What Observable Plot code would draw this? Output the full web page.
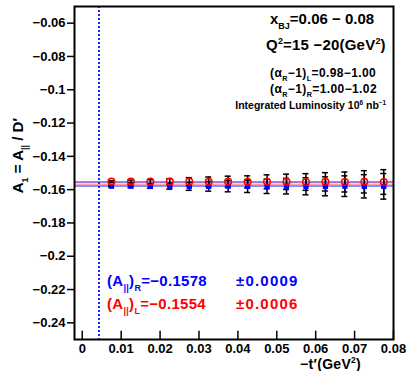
<!DOCTYPE html>
<html><head><meta charset="utf-8">
<script src="https://cdn.jsdelivr.net/npm/d3@7"></script>
<script src="https://cdn.jsdelivr.net/npm/@observablehq/plot@0.6"></script>
<style>body{margin:0;background:#fff} svg{display:block}</style>
</head><body><div id="chart"></div>
<script>
// -t' bin centres (GeV^2)
const tValues = [0.0075,0.0125,0.0175,0.0225,0.0275,0.0325,0.0375,0.0425,0.0475,0.0525,0.0575,0.0625,0.0675,0.0725,0.0775];
// (A||)_L  (red open circles)
const aLeft  = [-0.1551,-0.1551,-0.1552,-0.1552,-0.1552,-0.1553,-0.1552,-0.1553,-0.1553,-0.1553,-0.1554,-0.1553,-0.1554,-0.1553,-0.1554];
const errLeft = [0.0005,0.0008,0.0012,0.0018,0.0024,0.0029,0.0033,0.0036,0.0042,0.0046,0.0050,0.0055,0.0060,0.0067,0.0074];
// (A||)_R  (blue filled squares)
const aRight = [-0.1579,-0.1579,-0.1580,-0.1579,-0.1580,-0.1580,-0.1579,-0.1580,-0.1580,-0.1579,-0.1580,-0.1580,-0.1579,-0.1580,-0.1580];
const errRight = [0.0005,0.0008,0.0012,0.0018,0.0024,0.0029,0.0034,0.0037,0.0043,0.0047,0.0051,0.0057,0.0062,0.0070,0.0077];
// fit results
const fitRight = -0.1578, fitRightErr = 0.0009;
const fitLeft = -0.1554, fitLeftErr = 0.0006;
// cut line
const tCut = 0.0043;
// axes
const xDomain = [-0.002, 0.08];
const yDomain = [-0.25, -0.05];
const xTicks = [0,0.01,0.02,0.03,0.04,0.05,0.06,0.07,0.08];
const yTicks = [-0.24,-0.22,-0.2,-0.18,-0.16,-0.14,-0.12,-0.1,-0.08,-0.06];

const left = tValues.map((t,i)=>({t, a:aLeft[i], e:errLeft[i]}));
const right = tValues.map((t,i)=>({t, a:aRight[i], e:errRight[i]}));
const fmt = d => d === 0 ? "0" : (d < 0 ? "\u2212" : "") + String(+Math.abs(d).toFixed(2));
const FONT = "'Liberation Sans', Arial, Helvetica, sans-serif";

const errMarks = (data) => [
  Plot.ruleX(data, {x:"t", y1:d=>d.a-d.e, y2:d=>d.a+d.e, stroke:"black", strokeWidth:1.5}),
  Plot.ruleY(data, {y:d=>d.a+d.e, x1:"t", x2:"t", insetLeft:-3, insetRight:-3, stroke:"black", strokeWidth:1.5}),
  Plot.ruleY(data, {y:d=>d.a-d.e, x1:"t", x2:"t", insetLeft:-3, insetRight:-3, stroke:"black", strokeWidth:1.5})
];

const plot = Plot.plot({
  width: 409, height: 371,
  marginLeft: 74, marginRight: 16, marginTop: 6, marginBottom: 32,
  style: {fontFamily: FONT, background: "white", color: "black"},
  x: {domain: xDomain},
  y: {domain: yDomain},
  marks: [
    Plot.ruleX([tCut], {stroke:"#2020ff", strokeWidth:2, strokeDasharray:"2,2"}),
    Plot.ruleY([fitLeft, fitRight], {stroke:"#1a1aff", strokeWidth:1.2}),
    Plot.ruleY([fitLeft - fitLeftErr, fitRight + fitRightErr], {stroke:"red", strokeOpacity:0.45, strokeWidth:0.8}),
    ...errMarks(right),
    ...errMarks(left),
    Plot.dot(right, {x:"t", y:"a", symbol:"square", r:3, fill:"blue"}),
    Plot.dot(left, {x:"t", y:"a", r:3.3, stroke:"red", strokeWidth:1.5, fill:"none"}),
    Plot.ruleX(xTicks, {y1: yDomain[0], y2: yDomain[0] + 0.005, stroke:"black", strokeWidth:1.5}),
    Plot.axisY({ticks: yTicks, tickSize: 7, tickPadding: 2, tickFormat: fmt, fontSize: 13, fontWeight: "bold", strokeWidth: 1.5, label: null, style: {letterSpacing: "0.4px"}}),
    Plot.axisX({ticks: xTicks, tickSize: 0, tickPadding: 4, tickFormat: fmt, fontSize: 13, fontWeight: "bold", label: null, style: {letterSpacing: "0.4px"}}),
    Plot.frame({stroke:"black", strokeWidth:2})
  ]
});
document.getElementById("chart").appendChild(plot);

// rich text annotations (sub/superscripts)
const svg = d3.select(plot);
function rich(x, y, parts, {size=14, fill="black", anchor="start", rotate=0, spacing=0} = {}) {
  const t = svg.append("text")
    .attr("transform", `translate(${x},${y}) rotate(${rotate})`)
    .attr("font-family", FONT).attr("font-weight", "bold")
    .attr("font-size", size).attr("fill", fill).attr("text-anchor", anchor)
    .style("letter-spacing", spacing + "px");
  let shift = 0;
  for (const [s, kind] of parts) {
    const target = kind === "sub" ? size*0.3 : kind === "sup" ? -size*0.4 : 0;
    t.append("tspan").attr("dy", target - shift)
      .attr("font-size", kind ? size*0.6 : size).text(s);
    shift = target;
  }
  return t;
}
rich(270, 24, [["x"], ["BJ","sub"], ["=0.06 \u2212 0.08"]], {size:15});
rich(266, 50, [["Q"], ["2","sup"], ["=15 \u221220(GeV"], ["2","sup"], [")"]], {size:15, spacing:0.2});
rich(270, 77, [["(\u03b1"], ["R","sub"], ["\u22121)"], ["L","sub"], ["=0.98\u22121.00"]], {size:12, spacing:0.4});
rich(270, 93, [["(\u03b1"], ["R","sub"], ["\u22121)"], ["R","sub"], ["=1.00\u22121.02"]], {size:12, spacing:0.4});
rich(386, 109, [["Integrated Luminosity 10"], ["6","sup"], [" nb"], ["\u22121","sup"]], {size:10.5, anchor:"end"});
rich(107, 286, [["(A"], ["||","sub"], [")"], ["R","sub"], ["=\u22120.1578"]], {size:15, fill:"blue", spacing:0.3});
rich(236, 286, [["\u00b10.0009"]], {size:15, fill:"blue", spacing:1.2});
rich(107, 309, [["(A"], ["||","sub"], [")"], ["L","sub"], ["=\u22120.1554"]], {size:15, fill:"red", spacing:0.3});
rich(236, 309, [["\u00b10.0006"]], {size:15, fill:"red", spacing:1.2});
rich(23, 118, [["A"], ["1","sub"], [" = A"], ["||","sub"], [" / D\u2032"]], {size:15, anchor:"end", rotate:-90});
rich(361, 369, [["\u2212t\u2032(GeV"], ["2","sup"], [")"]], {size:14, anchor:"end", spacing:0.3});
</script>
</body></html>
